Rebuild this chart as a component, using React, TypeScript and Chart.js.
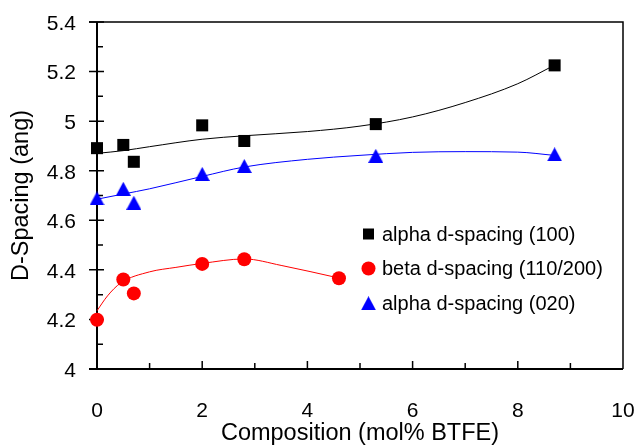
import React, { useEffect, useRef } from 'react';
import { Chart, registerables } from 'chart.js';

Chart.register(...registerables);

const FONT = "'Liberation Sans', Arial, Helvetica, sans-serif";

// Measured data points
const alpha100X = [0, 0.5, 0.7, 2, 2.8, 5.3, 8.7];
const alpha100Y = [4.891, 4.904, 4.836, 4.983, 4.92, 4.988, 5.225];
const betaX = [0, 0.5, 0.7, 2, 2.8, 4.6];
const betaY = [4.199, 4.361, 4.305, 4.424, 4.443, 4.366];
const alpha020X = [0, 0.5, 0.7, 2, 2.8, 5.3, 8.7];
const alpha020Y = [4.688, 4.727, 4.671, 4.787, 4.819, 4.86, 4.866];

// Trend lines
const alpha100TrendX = [0, 0.5, 1, 2, 2.8, 4, 5, 6, 7, 8, 8.69];
const alpha100TrendY = [4.87, 4.881, 4.897, 4.927, 4.941, 4.958, 4.98, 5.017, 5.075, 5.151, 5.225];
const alpha020TrendX = [0, 0.5, 1, 2, 2.8, 4, 5, 6, 7, 8, 8.69];
const alpha020TrendY = [4.685, 4.706, 4.727, 4.777, 4.815, 4.846, 4.862, 4.874, 4.877, 4.875, 4.862];
const betaTrendX = [0, 0.2, 0.45, 1, 1.5, 2, 2.8, 3.5, 4.6];
const betaTrendY = [4.235, 4.295, 4.347, 4.392, 4.41, 4.426, 4.444, 4.418, 4.367];

// Axes
const xTickValues = [0, 2, 4, 6, 8, 10];
const xTickLabels = ['0', '2', '4', '6', '8', '10'];
const xTickMarks = [1, 2, 3, 4, 5, 6, 7, 8, 9];
const yTickValues = [4, 4.2, 4.4, 4.6, 4.8, 5, 5.2, 5.4];
const yTickLabels = ['4', '4.2', '4.4', '4.6', '4.8', '5', '5.2', '5.4'];
const yMinorTicks = [4.1, 4.3, 4.5, 4.7, 4.9, 5.1, 5.3];

const legendLabels = ['alpha d-spacing (100)', 'beta d-spacing (110/200)', 'alpha d-spacing (020)'];
const xTitle = 'Composition (mol% BTFE)';
const yTitle = 'D-Spacing (ang)';

function makeTriangle(color: string, w: number, h: number) {
  const c = document.createElement('canvas');
  c.width = w;
  c.height = h;
  const ctx = c.getContext('2d')!;
  ctx.fillStyle = color;
  ctx.beginPath();
  ctx.moveTo(w / 2, 0);
  ctx.lineTo(w, h);
  ctx.lineTo(0, h);
  ctx.closePath();
  ctx.fill();
  return c;
}

function zip(xs: number[], ys: number[]) {
  return xs.map((x, i) => ({ x, y: ys[i] }));
}

export default function App() {
  const ref = useRef<HTMLCanvasElement | null>(null);

  useEffect(() => {
    document.body.style.margin = '0';
    const canvas = ref.current!;
    const tri = makeTriangle('#0000FF', 15, 14);

    const axesPlugin = {
      id: 'axesDeco',
      beforeDatasetsDraw(chart: any) {
        const { ctx, chartArea: a, scales } = chart;
        const x = scales.x;
        const y = scales.y;
        ctx.save();
        ctx.strokeStyle = '#000';
        ctx.lineWidth = 1.5;
        ctx.beginPath();
        yTickValues.forEach((v) => {
          const py = y.getPixelForValue(v);
          ctx.moveTo(a.left - 8, py);
          ctx.lineTo(a.left + 7, py);
        });
        yMinorTicks.forEach((v) => {
          const py = y.getPixelForValue(v);
          ctx.moveTo(a.left, py);
          ctx.lineTo(a.left + 6, py);
        });
        xTickMarks.forEach((v) => {
          const px = x.getPixelForValue(v);
          ctx.moveTo(px, a.bottom);
          ctx.lineTo(px, a.bottom - (v % 2 === 0 ? 8 : 6));
        });
        ctx.stroke();
        // top & right frame
        ctx.lineWidth = 1.5;
        ctx.beginPath();
        ctx.moveTo(a.left - 8, a.top);
        ctx.lineTo(a.right, a.top);
        ctx.lineTo(a.right, a.bottom);
        ctx.stroke();
        // axes
        ctx.lineWidth = 2;
        ctx.beginPath();
        ctx.moveTo(a.left, a.top);
        ctx.lineTo(a.left, a.bottom);
        ctx.moveTo(a.left - 8, a.bottom);
        ctx.lineTo(a.right, a.bottom);
        ctx.stroke();
        ctx.restore();
      },
    };

    const legendPlugin = {
      id: 'innerLegend',
      afterDatasetsDraw(chart: any) {
        const { ctx } = chart;
        const mx = 368.5;
        const tx = 382;
        const rows = [234, 268.5, 303.3];
        ctx.save();
        ctx.fillStyle = '#000';
        ctx.fillRect(mx - 5.5, rows[0] - 5.5, 11, 11);
        ctx.fillStyle = '#FF0000';
        ctx.beginPath();
        ctx.arc(mx, rows[1], 7, 0, Math.PI * 2);
        ctx.fill();
        ctx.drawImage(tri, mx - 7.5, rows[2] - 7);
        ctx.fillStyle = '#000';
        ctx.font = `20px ${FONT}`;
        ctx.textBaseline = 'middle';
        ctx.textAlign = 'left';
        legendLabels.forEach((t, i) => ctx.fillText(t, tx, rows[i] + 1));
        ctx.restore();
      },
    };

    const chart = new Chart(canvas, {
      type: 'scatter',
      data: {
        datasets: [
          {
            label: legendLabels[0],
            data: zip(alpha100X, alpha100Y),
            pointStyle: 'rect',
            pointRadius: 8.5,
            pointHoverRadius: 8.5,
            backgroundColor: '#000000',
            borderColor: '#000000',
            borderWidth: 0,
            showLine: false,
            clip: false,
          },
          {
            label: legendLabels[1],
            data: zip(betaX, betaY),
            pointStyle: 'circle',
            pointRadius: 7,
            pointHoverRadius: 7,
            backgroundColor: '#FF0000',
            borderColor: '#FF0000',
            borderWidth: 0,
            showLine: false,
            clip: false,
          },
          {
            label: legendLabels[2],
            data: zip(alpha020X, alpha020Y),
            pointStyle: tri,
            pointRadius: 8,
            pointHoverRadius: 8,
            backgroundColor: '#0000FF',
            borderColor: '#0000FF',
            borderWidth: 0,
            showLine: false,
            clip: false,
          },
          {
            label: 'trend100',
            data: zip(alpha100TrendX, alpha100TrendY),
            showLine: true,
            pointRadius: 0,
            borderColor: '#000000',
            borderWidth: 1,
            cubicInterpolationMode: 'monotone',
            clip: false,
          },
          {
            label: 'trendBeta',
            data: zip(betaTrendX, betaTrendY),
            showLine: true,
            pointRadius: 0,
            borderColor: '#FF0000',
            borderWidth: 1,
            cubicInterpolationMode: 'monotone',
            clip: false,
          },
          {
            label: 'trend020',
            data: zip(alpha020TrendX, alpha020TrendY),
            showLine: true,
            pointRadius: 0,
            borderColor: '#0000FF',
            borderWidth: 1,
            cubicInterpolationMode: 'monotone',
            clip: false,
          },
        ] as any,
      },
      options: {
        responsive: false,
        animation: false,
        layout: { padding: { top: 22, right: 14, left: 0, bottom: 0 } },
        plugins: {
          legend: { display: false },
          tooltip: { enabled: false },
        },
        events: [],
        scales: {
          x: {
            type: 'linear',
            min: 0,
            max: 10,
            afterFit: (s: any) => {
              s.height = 79;
              s.paddingLeft = 0;
              s.paddingRight = 0;
              s.paddingTop = 0;
              s.paddingBottom = 0;
            },
            afterBuildTicks: (s: any) => {
              s.ticks = xTickValues.map((v) => ({ value: v }));
            },
            grid: { display: false, drawTicks: false },
            border: { display: false },
            ticks: {
              padding: 30,
              color: '#000',
              font: { family: FONT, size: 21 },
              maxRotation: 0,
              callback: (_v: any, i: number) => xTickLabels[i],
            },
            title: {
              display: true,
              text: xTitle,
              color: '#000',
              font: { family: FONT, size: 23.5 },
              padding: { top: 0, bottom: 0 },
            },
          },
          y: {
            type: 'linear',
            min: 4,
            max: 5.4,
            afterFit: (s: any) => {
              s.width = 97;
              s.paddingLeft = 0;
              s.paddingRight = 0;
              s.paddingTop = 0;
              s.paddingBottom = 0;
            },
            afterBuildTicks: (s: any) => {
              s.ticks = yTickValues.map((v) => ({ value: v }));
            },
            grid: { display: false, drawTicks: false },
            border: { display: false },
            ticks: {
              padding: 21,
              labelOffset: 2,
              color: '#000',
              font: { family: FONT, size: 21 },
              callback: (_v: any, i: number) => yTickLabels[i],
            },
            title: {
              display: true,
              text: yTitle,
              color: '#000',
              font: { family: FONT, size: 23.5 },
              padding: { top: 7, bottom: 0 },
            },
          },
        },
      } as any,
      plugins: [axesPlugin, legendPlugin],
    });

    return () => chart.destroy();
  }, []);

  return (
    <div style={{ width: 637, height: 448 }}>
      <canvas ref={ref} width={637} height={448} style={{ display: 'block' }} />
    </div>
  );
}
